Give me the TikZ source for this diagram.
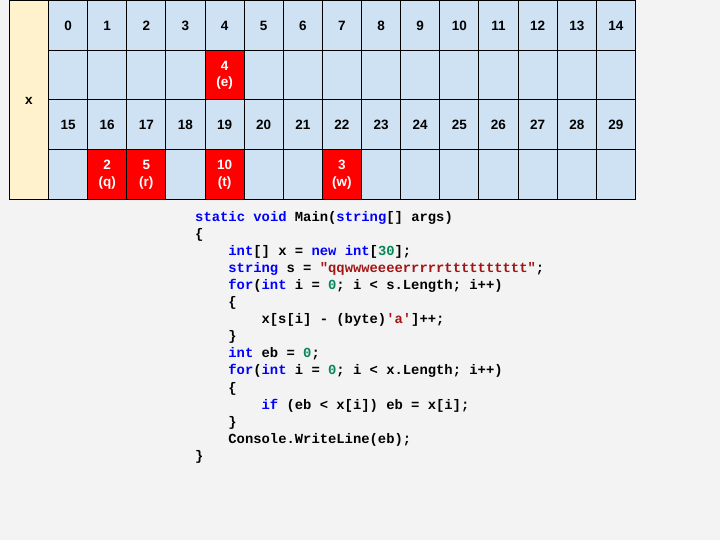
\documentclass[tikz,border=0pt]{standalone}
\usepackage{fontspec}
\setmainfont{Liberation Sans}
\newfontfamily\codefont{Liberation Mono}
\definecolor{bggray}{HTML}{F3F3F3}
\definecolor{cellblue}{HTML}{CFE2F3}
\definecolor{cellred}{HTML}{FF0000}
\definecolor{cellyellow}{HTML}{FFF2CC}
\definecolor{kwblue}{HTML}{0000FF}
\definecolor{numgreen}{HTML}{098658}
\definecolor{strred}{HTML}{A31515}
%% Colouring of the C# source.
\newcommand\kw[1]{\textcolor{kwblue}{#1}}
\newcommand\numlit[1]{\textcolor{numgreen}{#1}}
\newcommand\strlit[1]{\textcolor{strred}{#1}}
\begin{document}
\frenchspacing
\begin{tikzpicture}[x=1pt,y=-1pt,
  cell/.style={draw=black, line width=1pt, fill=cellblue, inner sep=0pt,
    minimum width=39.13pt, minimum height=49.75pt, align=center,
    text height=9.7pt, text depth=0pt,
    font=\bfseries\fontsize{13.5}{16.7}\selectfont},
  hitcell/.style={cell, fill=cellred, text=white, text height={}, text depth={}},
  codeline/.style={anchor=base west, inner sep=0pt,
    font=\codefont\bfseries\fontsize{13.85}{17}\selectfont}]
  %% Left edge of the first index column.
  \def\xzero{48.5}
  %% Top edge of the table.
  \def\yzero{0.5}
  %% Width of one cell.
  \def\cw{39.13}
  %% Height of one row.
  \def\rh{49.75}
  %% Left edge and first baseline of the code.
  \def\cx{195}
  \def\cy{221.5}
  %% Width of one indent level and distance between baselines.
  \def\ind{33.2}
  \def\lh{17.05}

  %% Background.
  \fill[bggray] (0,0) rectangle (720,540);

  %% The name of the array.
  \node[cell, fill=cellyellow, minimum width=38.8pt, minimum height=199pt]
    (name) at (29, {\yzero+2*\rh}) {x};

  %% Index rows and value rows.
  \foreach \i in {0,...,14} {
    \pgfmathtruncatemacro\j{\i+15}
    \node[cell] (i\i) at ({\xzero+(\i+0.5)*\cw}, {\yzero+0.5*\rh}) {\i};
    \node[cell] (v\i) at ({\xzero+(\i+0.5)*\cw}, {\yzero+1.5*\rh}) {};
    \node[cell] (i\j) at ({\xzero+(\i+0.5)*\cw}, {\yzero+2.5*\rh}) {\j};
    \node[cell] (v\j) at ({\xzero+(\i+0.5)*\cw}, {\yzero+3.5*\rh}) {};
  }

  %% Counted letters.
  \node[hitcell] (e) at (v4) {4\\(e)};
  \node[hitcell] (q) at (v16) {2\\(q)};
  \node[hitcell] (r) at (v17) {5\\(r)};
  \node[hitcell] (t) at (v19) {10\\(t)};
  \node[hitcell] (w) at (v22) {3\\(w)};

  %% The source code.
  \node[codeline] (l0) at (\cx, \cy) {\kw{static} \kw{void} Main(\kw{string}[] args)};
  \node[codeline] (l1) at (\cx, \cy+\lh) {\{};
  \node[codeline] (l2) at (\cx+\ind, \cy+2*\lh) {\kw{int}[] x = \kw{new} \kw{int}[\numlit{30}];};
  \node[codeline] (l3) at (\cx+\ind, \cy+3*\lh) {\kw{string} s = \strlit{"qqwwweeeerrrrrtttttttttt"};};
  \node[codeline] (l4) at (\cx+\ind, \cy+4*\lh) {\kw{for}(\kw{int} i = \numlit{0}; i < s.Length; i++)};
  \node[codeline] (l5) at (\cx+\ind, \cy+5*\lh) {\{};
  \node[codeline] (l6) at (\cx+2*\ind, \cy+6*\lh) {x[s[i] - (byte)\strlit{\char39 a\char39}]++;};
  \node[codeline] (l7) at (\cx+\ind, \cy+7*\lh) {\}};
  \node[codeline] (l8) at (\cx+\ind, \cy+8*\lh) {\kw{int} eb = \numlit{0};};
  \node[codeline] (l9) at (\cx+\ind, \cy+9*\lh) {\kw{for}(\kw{int} i = \numlit{0}; i < x.Length; i++)};
  \node[codeline] (l10) at (\cx+\ind, \cy+10*\lh) {\{};
  \node[codeline] (l11) at (\cx+2*\ind, \cy+11*\lh) {\kw{if} (eb < x[i]) eb = x[i];};
  \node[codeline] (l12) at (\cx+\ind, \cy+12*\lh) {\}};
  \node[codeline] (l13) at (\cx+\ind, \cy+13*\lh) {Console.WriteLine(eb);};
  \node[codeline] (l14) at (\cx, \cy+14*\lh) {\}};

  \useasboundingbox (0,0) rectangle (720,540);
\end{tikzpicture}
\end{document}
